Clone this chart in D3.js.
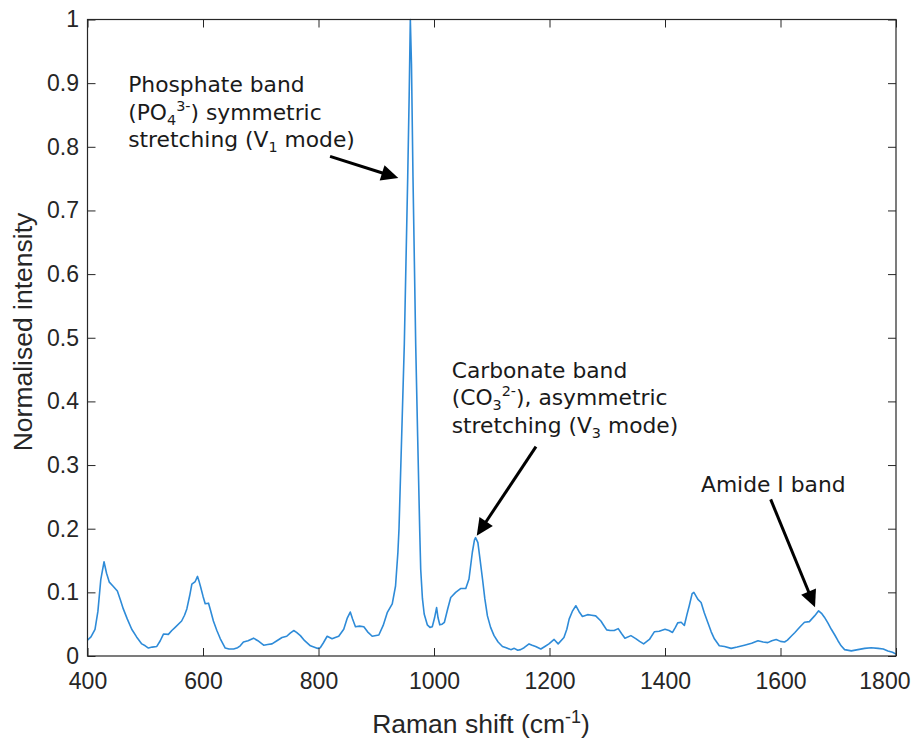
<!DOCTYPE html>
<html>
<head>
<meta charset="utf-8">
<script src="https://cdn.jsdelivr.net/npm/d3@7"></script>
<style>
  html, body { margin: 0; padding: 0; background: #ffffff; }
  svg { display: block; }
</style>
</head>
<body>
<svg id="chart" width="912" height="738"></svg>
<script>
// ---- data ----
const ramanShift = [400,406,413,418,423,428.6,433,437.8,444,451.7,457,462,469,476.6,485,494,500,505.5,512,520,526,531.5,540,546,551.8,563,568,572,577,580.7,586.5,590.5,593,596,600,603.8,609.6,613,618,624,630,638.5,645,653,660,664.5,670,678,687.5,695,705,712,719.5,728,736.8,745,751,757,762,768.6,776,786,797.6,803,808,815,823.5,829,835,843.7,850,855,859,864,871,878.5,885,893,904.5,912,919,927.7,933.4,937.5,939.4,944,948.6,951.5,954.5,957,959,961,963.6,966,968.3,971.7,975.2,977,980,983,988.4,993,997,1001,1004.5,1007,1010,1014,1018,1024,1029,1037.5,1046,1055,1060.6,1066.4,1070,1072,1076,1080,1084,1088,1092.5,1098,1104,1111,1118.5,1125,1133,1139,1145,1150,1156,1164.6,1170,1176,1185,1192,1199,1208,1215,1225,1230,1234,1240,1245.6,1251,1257,1266,1273,1280,1289,1294,1299,1305,1312,1319,1325,1330.6,1341,1350,1356,1363,1373,1381.5,1390,1400,1407,1413,1418,1422,1428,1433.5,1438,1442,1447,1450,1457,1462.5,1468,1474,1480,1485.5,1494,1503,1514.5,1525,1537.5,1550,1561,1570,1578,1585,1592.5,1600,1607,1612,1618.5,1625,1630,1636,1641.6,1650,1659,1666,1671,1676,1682,1688,1694,1699.5,1705,1711,1722.6,1734,1745.7,1757,1769,1778,1786,1794,1800];
const intensity = [0.025,0.03,0.042,0.07,0.12,0.148,0.13,0.116,0.11,0.102,0.088,0.074,0.058,0.042,0.03,0.019,0.016,0.0125,0.014,0.015,0.024,0.0345,0.034,0.04,0.045,0.055,0.064,0.074,0.095,0.113,0.117,0.125,0.118,0.108,0.094,0.082,0.083,0.072,0.055,0.04,0.027,0.0125,0.011,0.011,0.013,0.016,0.022,0.024,0.028,0.024,0.017,0.018,0.019,0.024,0.029,0.031,0.036,0.040,0.037,0.032,0.024,0.016,0.012,0.013,0.02,0.031,0.027,0.029,0.031,0.042,0.06,0.069,0.058,0.046,0.047,0.046,0.038,0.031,0.033,0.048,0.068,0.082,0.110,0.163,0.2,0.345,0.49,0.62,0.753,0.88,1.0,0.93,0.753,0.62,0.49,0.345,0.2,0.136,0.09,0.066,0.049,0.045,0.046,0.06,0.076,0.06,0.049,0.05,0.053,0.075,0.092,0.100,0.106,0.106,0.121,0.163,0.182,0.186,0.178,0.15,0.121,0.09,0.063,0.045,0.032,0.022,0.015,0.013,0.010,0.012,0.009,0.010,0.013,0.019,0.017,0.015,0.011,0.015,0.019,0.026,0.019,0.029,0.042,0.058,0.071,0.079,0.07,0.062,0.065,0.064,0.063,0.055,0.048,0.041,0.04,0.040,0.043,0.035,0.028,0.032,0.027,0.023,0.019,0.026,0.038,0.039,0.042,0.040,0.037,0.045,0.052,0.053,0.048,0.065,0.079,0.098,0.100,0.089,0.084,0.068,0.053,0.038,0.027,0.016,0.015,0.012,0.014,0.017,0.02,0.024,0.022,0.021,0.024,0.026,0.023,0.022,0.025,0.031,0.037,0.042,0.048,0.053,0.054,0.063,0.071,0.067,0.061,0.052,0.042,0.033,0.024,0.016,0.010,0.008,0.010,0.012,0.013,0.012,0.011,0.008,0.006,0.003];

const xTickValues = [400,600,800,1000,1200,1400,1600,1800];
const xTickLabels = ["400","600","800","1000","1200","1400","1600","1800"];
const yTickValues = [0,0.1,0.2,0.3,0.4,0.5,0.6,0.7,0.8,0.9,1];
const yTickLabels = ["0","0.1","0.2","0.3","0.4","0.5","0.6","0.7","0.8","0.9","1"];

const xTitle = "Raman shift (cm";
const xTitleSup = "-1";
const yTitle = "Normalised intensity";

// annotations: text anchor, arrow tail, arrow tip (in data coords)
const annotationTexts = [
  [ [{t:"Phosphate band"}],
    [{t:"(PO"},{t:"4",sub:true},{t:"3-",sup:true},{t:") symmetric"}],
    [{t:"stretching (V"},{t:"1",sub:true},{t:" mode)"}] ],
  [ [{t:"Carbonate band"}],
    [{t:"(CO"},{t:"3",sub:true},{t:"2-",sup:true},{t:"), asymmetric"}],
    [{t:"stretching (V"},{t:"3",sub:true},{t:" mode)"}] ],
  [ [{t:"Amide I band"}] ]
];
const annotationAnchor = [[470.5,0.886],[1030.6,0.437],[1462.3,0.258]];
const arrowTail = [[820,0.785],[1176.6,0.329],[1583,0.246]];
const arrowTip = [[938.2,0.751],[1074,0.189],[1659.8,0.0764]];

// ---- layout ----
const svg = d3.select("#chart");
const L = 87.5, R = 896, T = 19.5, B = 656;
const x = d3.scaleLinear().domain([400,1800]).range([L,R]);
const y = d3.scaleLinear().domain([0,1]).range([B,T]);
const axisColor = "#262626";
const tickFont = "'Liberation Sans', Arial, Helvetica, sans-serif";

svg.append("rect").attr("width",912).attr("height",738).attr("fill","#fff");

// spectrum
const pts = ramanShift.map((d,i)=>[d,intensity[i]]);
svg.append("path")
  .datum(pts)
  .attr("fill","none")
  .attr("stroke","#2e8bd8")
  .attr("stroke-width",1.6)
  .attr("stroke-linejoin","round")
  .attr("d", d3.line().x(d=>x(d[0])).y(d=>y(d[1])));

// axes
function styleAxis(g){
  g.select(".domain").remove();
  g.selectAll(".tick line").attr("stroke",axisColor).attr("stroke-width",1);
  g.selectAll(".tick text").attr("fill",axisColor).attr("font-family",tickFont).attr("font-size",23);
}
const xAxisG = svg.append("g").attr("transform",`translate(0,${B})`)
  .call(d3.axisBottom(x).tickValues(xTickValues).tickFormat((d,i)=>xTickLabels[i]).tickSizeInner(-8).tickSizeOuter(0).tickPadding(17))
  .call(styleAxis);
// keep last label inside the picture, as in the reference
xAxisG.selectAll(".tick text").filter(d=>d===1800).attr("text-anchor","end").attr("dx",14);

svg.append("g").attr("transform",`translate(0,${T})`)
  .call(d3.axisTop(x).tickValues(xTickValues).tickFormat("").tickSizeInner(-8).tickSizeOuter(0))
  .call(styleAxis);
svg.append("g").attr("transform",`translate(${L},0)`)
  .call(d3.axisLeft(y).tickValues(yTickValues).tickFormat((d,i)=>yTickLabels[i]).tickSizeInner(-8).tickSizeOuter(0).tickPadding(8.5))
  .call(styleAxis);
svg.append("g").attr("transform",`translate(${R},0)`)
  .call(d3.axisRight(y).tickValues(yTickValues).tickFormat("").tickSizeInner(-8).tickSizeOuter(0))
  .call(styleAxis);

svg.append("rect").attr("x",L).attr("y",T).attr("width",R-L).attr("height",B-T)
  .attr("fill","none").attr("stroke",axisColor).attr("stroke-width",1.2);

// axis titles
const xt = svg.append("text").attr("x",481).attr("y",733).attr("text-anchor","middle")
  .attr("font-family",tickFont).attr("font-size",26.5).attr("fill",axisColor);
xt.append("tspan").text(xTitle);
xt.append("tspan").attr("font-size",18).attr("dy",-10).text(xTitleSup);
xt.append("tspan").attr("dy",10).text(")");

svg.append("text").attr("transform",`translate(32,332) rotate(-90)`)
  .attr("text-anchor","middle").attr("font-family",tickFont).attr("font-size",26.5)
  .attr("fill",axisColor).text(yTitle);

// annotations
const annFont = "'DejaVu Sans', Verdana, sans-serif";
const annSize = 21.8, lineGap = 27.5;
annotationTexts.forEach((lines,k)=>{
  const ax = x(annotationAnchor[k][0]), ay = y(annotationAnchor[k][1]);
  lines.forEach((parts,li)=>{
    const t = svg.append("text").attr("x",ax).attr("y",ay+li*lineGap)
      .attr("font-family",annFont).attr("font-size",annSize).attr("fill","#1a1a1a");
    let shift = 0;
    parts.forEach(p=>{
      let target = p.sub ? 5 : (p.sup ? -9 : 0);
      const s = t.append("tspan").attr("dy", target - shift).text(p.t);
      if (p.sub || p.sup) s.attr("font-size", annSize*0.66);
      shift = target;
    });
  });
  // arrow
  const x1 = x(arrowTail[k][0]), y1 = y(arrowTail[k][1]);
  const x2 = x(arrowTip[k][0]), y2 = y(arrowTip[k][1]);
  const ang = Math.atan2(y2-y1, x2-x1);
  const hl = 17, hw = 8;
  const bx = x2 - hl*Math.cos(ang), by = y2 - hl*Math.sin(ang);
  svg.append("line").attr("x1",x1).attr("y1",y1).attr("x2",bx+2*Math.cos(ang)).attr("y2",by+2*Math.sin(ang))
    .attr("stroke","#000").attr("stroke-width",3);
  const px = -Math.sin(ang), py = Math.cos(ang);
  svg.append("polygon").attr("points",[
    [x2,y2],[bx+hw*px,by+hw*py],[bx-hw*px,by-hw*py]].map(p=>p.join(",")).join(" "))
    .attr("fill","#000");
});
</script>
</body>
</html>
